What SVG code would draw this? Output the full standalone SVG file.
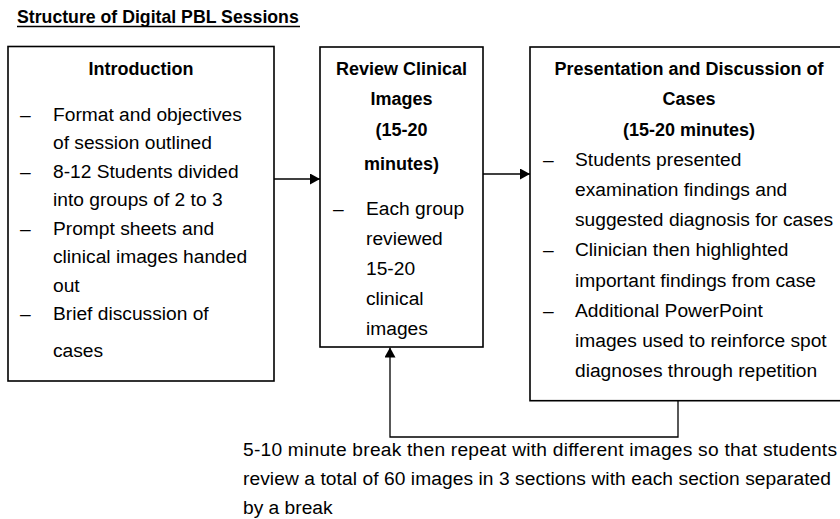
<svg xmlns="http://www.w3.org/2000/svg" width="840" height="519" viewBox="0 0 840 519">
<defs>
<style>
.box{fill:#fff;stroke:#000;stroke-width:1.6}
.t{font-family:"Liberation Sans",Arial,sans-serif;font-size:19.2px;fill:#000}
.b{font-family:"Liberation Sans",Arial,sans-serif;font-size:18px;font-weight:bold;fill:#000;text-anchor:middle}
.c{fill:none;stroke:#000;stroke-width:1.3}
</style>
<marker id="ah" viewBox="0 0 10 11" refX="10" refY="5.5" markerWidth="10" markerHeight="11" markerUnits="userSpaceOnUse" orient="auto">
<path d="M0,0 L10,5.5 L0,11 z" fill="#000"/>
</marker>
</defs>
<rect width="840" height="519" fill="#fff"/>
<g id="title">
<text x="17" y="23" font-family="Liberation Sans,Arial,sans-serif" font-size="17.7" font-weight="bold" fill="#000">Structure of Digital PBL Sessions</text>
<line x1="17" y1="26.5" x2="300" y2="26.5" stroke="#000" stroke-width="1.3"/>
</g>
<g id="introduction">
<rect class="box" x="8" y="46.5" width="266" height="334.5"/>
<text class="b" x="141" y="75">Introduction</text>
<text class="t" x="20" y="120.5">–</text>
<text class="t" x="53" y="120.5">Format and objectives</text>
<text class="t" x="53" y="149">of session outlined</text>
<text class="t" x="20" y="177.5">–</text>
<text class="t" x="53" y="177.5">8-12 Students divided</text>
<text class="t" x="53" y="206">into groups of 2 to 3</text>
<text class="t" x="20" y="234.5">–</text>
<text class="t" x="53" y="234.5">Prompt sheets and</text>
<text class="t" x="53" y="263">clinical images handed</text>
<text class="t" x="53" y="291.5">out</text>
<text class="t" x="20" y="320">–</text>
<text class="t" x="53" y="320">Brief discussion of</text>
<text class="t" x="53" y="356.5">cases</text>
</g>
<g id="review">
<rect class="box" x="320" y="47" width="163" height="300"/>
<text class="b" x="401.5" y="75">Review Clinical</text>
<text class="b" x="401.5" y="105">Images</text>
<text class="b" x="401.5" y="135.5">(15-20</text>
<text class="b" x="401.5" y="169.5">minutes)</text>
<text class="t" x="333" y="214.5">–</text>
<text class="t" x="366" y="214.5">Each group</text>
<text class="t" x="366" y="244.5">reviewed</text>
<text class="t" x="366" y="274.5">15-20</text>
<text class="t" x="366" y="304.5">clinical</text>
<text class="t" x="366" y="334.5">images</text>
</g>
<g id="presentation">
<rect class="box" x="530" y="47" width="318" height="353.7"/>
<text class="b" x="689" y="75">Presentation and Discussion of</text>
<text class="b" x="689" y="105">Cases</text>
<text class="b" x="689" y="135.5">(15-20 minutes)</text>
<text class="t" x="543" y="165.5">–</text>
<text class="t" x="575" y="165.5">Students presented</text>
<text class="t" x="575" y="196">examination findings and</text>
<text class="t" x="575" y="226">suggested diagnosis for cases</text>
<text class="t" x="543" y="256">–</text>
<text class="t" x="575" y="256">Clinician then highlighted</text>
<text class="t" x="575" y="286.5">important findings from case</text>
<text class="t" x="543" y="316.5">–</text>
<text class="t" x="575" y="316.5">Additional PowerPoint</text>
<text class="t" x="575" y="347">images used to reinforce spot</text>
<text class="t" x="575" y="377">diagnoses through repetition</text>
</g>
<g id="connectors">
<line class="c" x1="274" y1="179" x2="320" y2="179" marker-end="url(#ah)"/>
<line class="c" x1="483" y1="174" x2="530" y2="174" marker-end="url(#ah)"/>
<path class="c" d="M678,400.7 V437 H390 V347.5" marker-end="url(#ah)"/>
</g>
<g id="note">
<text class="t" x="243" y="456" textLength="594" lengthAdjust="spacing">5-10 minute break then repeat with different images so that students</text>
<text class="t" x="243" y="485" textLength="588" lengthAdjust="spacing">review a total of 60 images in 3 sections with each section separated</text>
<text class="t" x="243" y="514">by a break</text>
</g>
</svg>
